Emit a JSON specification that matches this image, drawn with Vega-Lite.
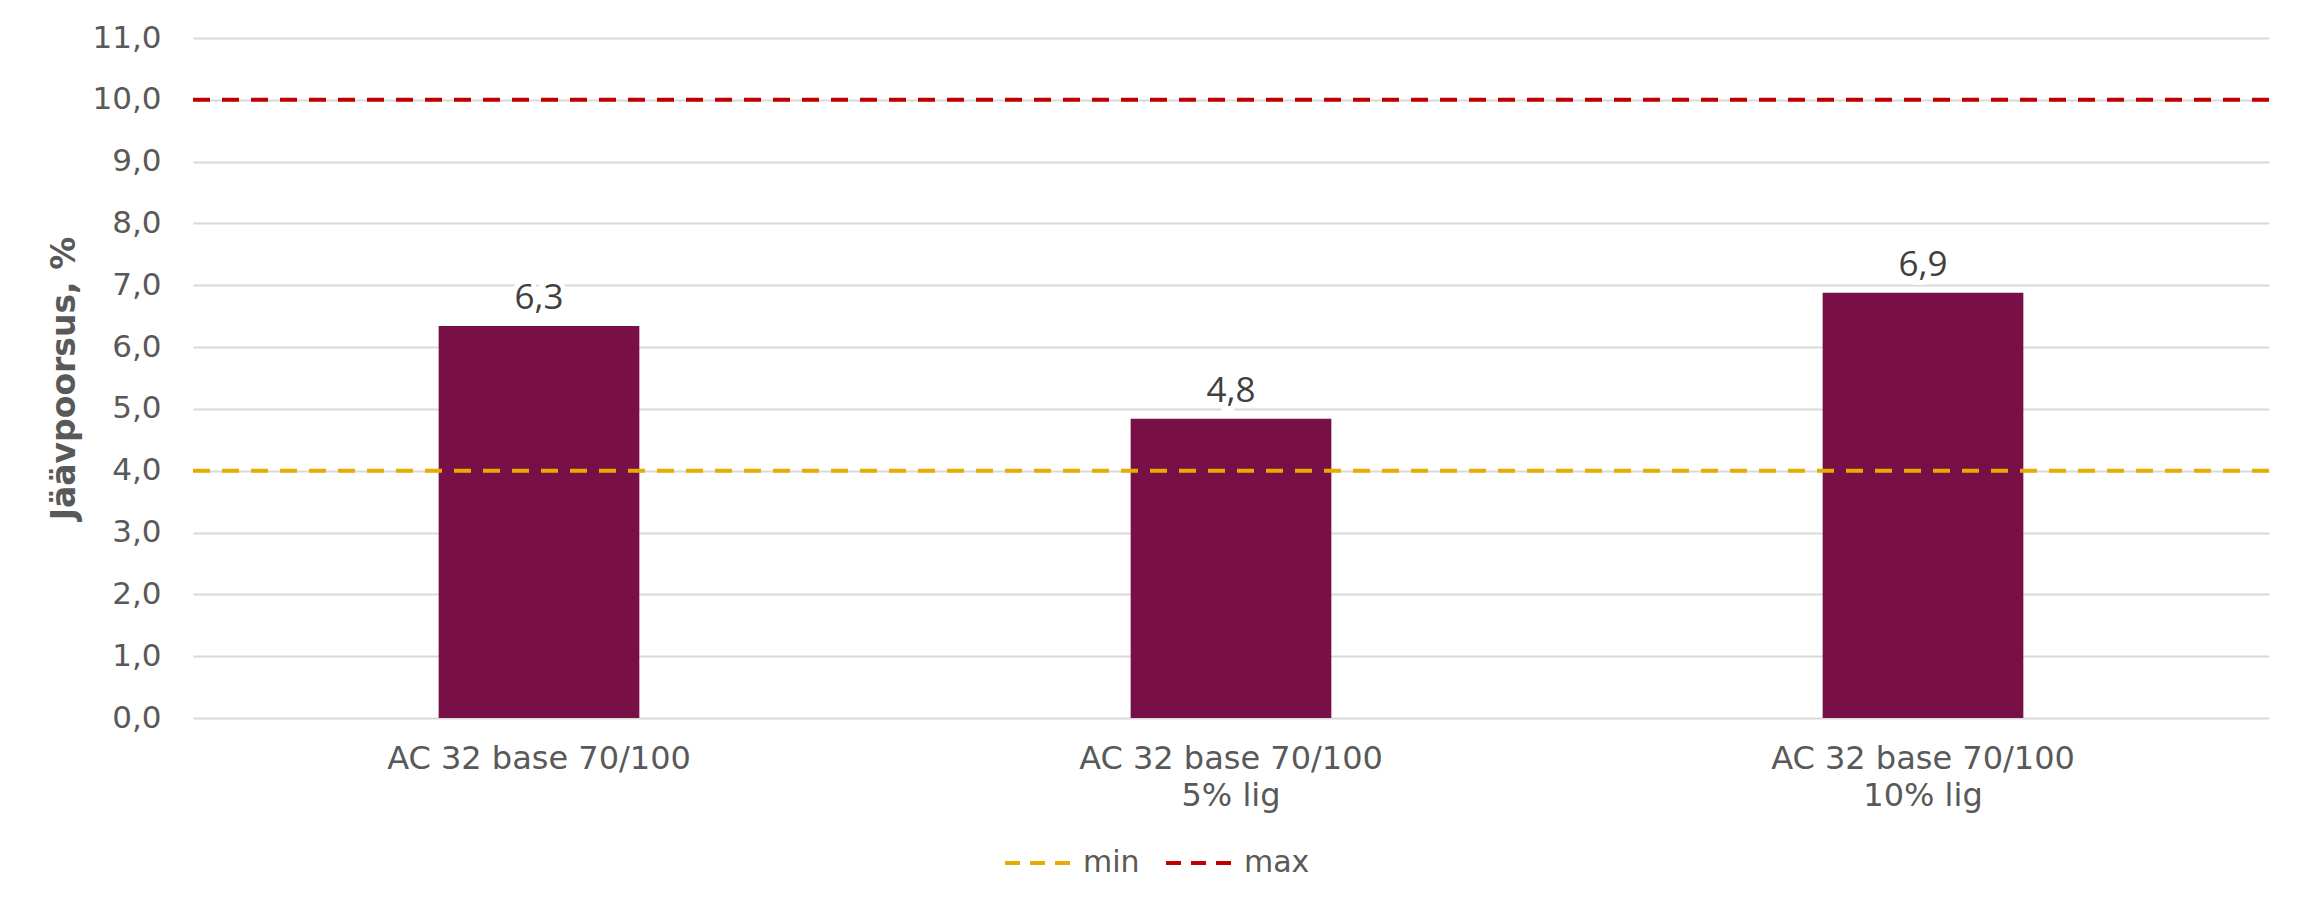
{
  "$schema": "https://vega.github.io/schema/vega-lite/v6.json",
  "width": 2076,
  "height": 680,
  "autosize": {"type": "none"},
  "padding": {"left": 193, "top": 38, "right": 29, "bottom": 182},
  "background": "white",
  "config": {
    "view": {"stroke": null},
    "font": "DejaVu Sans",
    "locale": {"number": {"decimal": ",", "thousands": " ", "grouping": [3], "currency": ["", " €"]}}
  },
  "datasets": {
    "bars": [
      {"kategooria": "AC 32 base 70/100", "vaartus": 6.34},
      {"kategooria": "AC 32 base 70/100|5% lig", "vaartus": 4.84},
      {"kategooria": "AC 32 base 70/100|10% lig", "vaartus": 6.88}
    ],
    "limits": [
      {"piir": "min", "vaartus": 4},
      {"piir": "max", "vaartus": 10}
    ]
  },
  "layer": [
    {
      "data": {"name": "bars"},
      "mark": {"type": "bar", "color": "#780F46"},
      "encoding": {
        "x": {
          "field": "kategooria", "type": "nominal", "sort": null,
          "scale": {"paddingInner": 0.71, "paddingOuter": 0.355},
          "axis": {
            "title": null, "labelAngle": 0, "domain": false, "ticks": false,
            "labelExpr": "split(datum.label, '|')", "labelLimit": 600,
            "labelFont": "DejaVu Sans", "labelFontSize": 32, "labelColor": "#595959",
            "labelPadding": 25, "labelLineHeight": 37, "labelBaseline": "top"
          }
        },
        "y": {
          "field": "vaartus", "type": "quantitative",
          "scale": {"domain": [0, 11], "nice": false},
          "axis": {
            "title": "Jäävpoorsus, %", "values": [0,1,2,3,4,5,6,7,8,9,10,11],
            "format": ".1f", "domain": false, "ticks": false,
            "grid": true, "gridColor": "#D9D9D9", "gridWidth": 2,
            "labelFont": "DejaVu Sans", "labelFontSize": 31, "labelColor": "#595959", "labelPadding": 32,
            "titleFont": "DejaVu Sans", "titleFontSize": 33, "titleFontWeight": "bold", "titleColor": "#595959",
            "titlePadding": 10
          }
        }
      }
    },
    {
      "data": {"name": "bars"},
      "mark": {"type": "text", "font": "Open Sans", "fontSize": 35, "dy": -17, "baseline": "alphabetic", "color": "white", "stroke": "white", "strokeWidth": 10},
      "encoding": {
        "x": {"field": "kategooria", "type": "nominal", "sort": null},
        "y": {"field": "vaartus", "type": "quantitative"},
        "text": {"field": "vaartus", "type": "quantitative", "format": ".1f"}
      }
    },
    {
      "data": {"name": "bars"},
      "mark": {"type": "text", "font": "Open Sans", "fontSize": 35, "dy": -17, "baseline": "alphabetic", "color": "#404040"},
      "encoding": {
        "x": {"field": "kategooria", "type": "nominal", "sort": null},
        "y": {"field": "vaartus", "type": "quantitative"},
        "text": {"field": "vaartus", "type": "quantitative", "format": ".1f"}
      }
    },
    {
      "data": {"name": "limits"},
      "mark": {"type": "rule", "strokeWidth": 4, "strokeDash": [17, 12]},
      "encoding": {
        "y": {"field": "vaartus", "type": "quantitative"},
        "color": {
          "field": "piir", "type": "nominal",
          "scale": {"domain": ["min", "max"], "range": ["#E6AD00", "#C00000"]},
          "legend": {
            "title": null, "orient": "none", "direction": "horizontal",
            "legendX": 810, "legendY": 789,
            "symbolType": "stroke", "symbolSize": 4624, "symbolStrokeWidth": 4, "symbolDash": [15, 10],
            "labelFont": "DejaVu Sans", "labelFontSize": 30, "labelColor": "#595959",
            "labelOffset": 8, "columnPadding": 18, "padding": 0
          }
        }
      }
    }
  ]
}
